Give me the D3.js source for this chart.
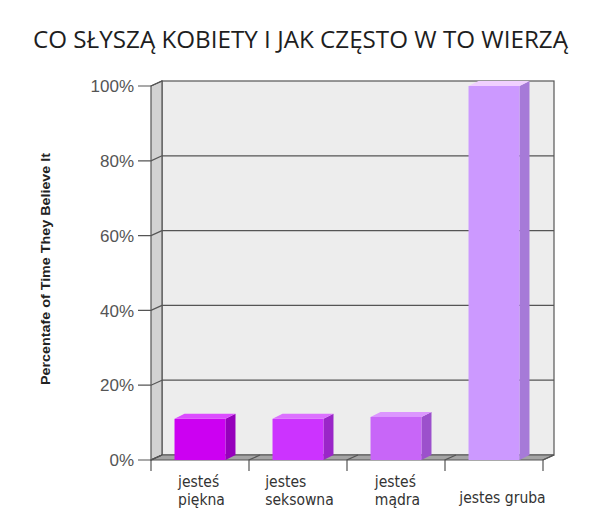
<!DOCTYPE html>
<html>
<head>
<meta charset="utf-8">
<script src="https://cdn.jsdelivr.net/npm/d3@7"></script>
<style>
  html, body { margin: 0; padding: 0; background: #ffffff; }
  svg { display: block; }
</style>
</head>
<body>
<svg id="chart" width="600" height="524"></svg>
<script>
// ---- data ----
const title = "CO SŁYSZĄ KOBIETY I JAK CZĘSTO W TO WIERZĄ";
const yAxisTitle = "Percentafe of Time They Believe It";
const categories = ["jesteś piękna", "jestes seksowna", "jesteś mądra", "jestes gruba"];
const categoryLines = [["jesteś", "piękna"], ["jestes", "seksowna"], ["jesteś", "mądra"], ["jestes gruba"]];
const values = [11, 11, 11.5, 100];
const yTicks = [0, 20, 40, 60, 80, 100];
const yTickLabels = ["0%", "20%", "40%", "60%", "80%", "100%"];

// ---- styles ----
const frontColors = ["#cc00f2", "#cc33ff", "#c866f8", "#cc99ff"];
const sideColors = ["#9600bc", "#9a26c8", "#9c50cc", "#a67ad8"];
const topColors = ["#dc4cff", "#dc70ff", "#dc96ff", "#f0d0ff"];

const svg = d3.select("#chart");
const DX = 11, DY = -5;       // wall depth
const BDX = 10, BDY = -5;     // bar depth

const x = d3.scaleBand().domain(categories).range([151, 543]).paddingInner(0.48).paddingOuter(0.24);
const y = d3.scaleLinear().domain([0, 100]).range([460, 86]);

const axisColor = "#555";
const g = svg.append("g");

// back wall
g.append("rect")
  .attr("x", x.range()[0] + DX).attr("y", y(100) + DY)
  .attr("width", x.range()[1] - x.range()[0]).attr("height", y(0) - y(100))
  .attr("fill", "#ededed").attr("stroke", axisColor).attr("stroke-width", 1.2);

// left wall
g.append("polygon")
  .attr("points", [[x.range()[0], y(100)], [x.range()[0] + DX, y(100) + DY], [x.range()[0] + DX, y(0) + DY], [x.range()[0], y(0)]].map(p => p.join(",")).join(" "))
  .attr("fill", "#d2d2d2").attr("stroke", axisColor).attr("stroke-width", 1.2);

// floor
g.append("polygon")
  .attr("points", [[x.range()[0], y(0)], [x.range()[0] + DX, y(0) + DY], [x.range()[1] + DX, y(0) + DY], [x.range()[1], y(0)]].map(p => p.join(",")).join(" "))
  .attr("fill", "#a4a4a4").attr("stroke", axisColor).attr("stroke-width", 1.2);

// gridlines & y ticks
yTicks.forEach((t, i) => {
  const yy = y(t);
  if (t > 0 && t < 100) {
    g.append("line").attr("x1", x.range()[0] + DX).attr("x2", x.range()[1] + DX)
      .attr("y1", yy + DY).attr("y2", yy + DY).attr("stroke", axisColor).attr("stroke-width", 1.2);
  }
  g.append("polyline")
    .attr("points", `138,${yy} ${x.range()[0]},${yy} ${x.range()[0] + DX},${yy + DY}`)
    .attr("fill", "none").attr("stroke", axisColor).attr("stroke-width", 1.2);
  g.append("text").attr("x", 134).attr("y", yy).attr("dy", "0.36em")
    .attr("text-anchor", "end")
    .attr("font-family", "Liberation Sans, Arial, sans-serif").attr("font-size", 17)
    .attr("fill", "#555").text(yTickLabels[i]);
});

// x ticks at band boundaries
const step = x.step();
const boundaries = d3.range(categories.length + 1).map(i => x.range()[0] + i * step);
boundaries.forEach(bx => {
  g.append("polyline")
    .attr("points", `${bx},471 ${bx},${y(0)} ${bx + DX},${y(0) + DY}`)
    .attr("fill", "none").attr("stroke", axisColor).attr("stroke-width", 1.2);
});

// bars
categories.forEach((c, i) => {
  const x0 = x(c), x1 = x(c) + x.bandwidth();
  const yt = y(values[i]), yb = y(0);
  const bar = g.append("g");
  bar.append("polygon")
    .attr("points", [[x1, yt], [x1 + BDX, yt + BDY], [x1 + BDX, yb + BDY], [x1, yb]].map(p => p.join(",")).join(" "))
    .attr("fill", sideColors[i]);
  bar.append("polygon")
    .attr("points", [[x0, yt], [x0 + BDX, yt + BDY], [x1 + BDX, yt + BDY], [x1, yt]].map(p => p.join(",")).join(" "))
    .attr("fill", topColors[i]);
  bar.append("rect").attr("x", x0).attr("y", yt).attr("width", x.bandwidth()).attr("height", yb - yt)
    .attr("fill", frontColors[i]);
});

// x labels
categories.forEach((c, i) => {
  const lines = categoryLines[i];
  const cx = x(c) + x.bandwidth() / 2 + (lines.length === 1 ? 9 : 2);
  const baseY = lines.length === 1 ? 503 : 487;
  const t = g.append("text")
    .attr("font-family", "DejaVu Sans Condensed, DejaVu Sans, sans-serif").attr("font-size", 15.5)
    .attr("fill", "#333");
  lines.forEach((ln, j) => {
    t.append("tspan").attr("x", 0).attr("y", baseY + j * 18).text(ln);
  });
  const w = t.node().getBBox().width;
  t.attr("transform", `translate(${cx - w / 2},0)`);
});

// y axis title
svg.append("text")
  .attr("transform", "translate(50,269) rotate(-90)")
  .attr("text-anchor", "middle")
  .attr("font-family", "Liberation Sans, Arial, sans-serif").attr("font-weight", "bold")
  .attr("font-size", 12).attr("fill", "#222")
  .attr("textLength", 232).attr("lengthAdjust", "spacingAndGlyphs")
  .text(yAxisTitle);

// title
svg.append("text")
  .attr("x", 300.5).attr("y", 48)
  .attr("text-anchor", "middle")
  .attr("font-family", "Open Sans, DejaVu Sans, sans-serif")
  .attr("font-size", 24).attr("fill", "#1e1e1e")
  .attr("textLength", 535).attr("lengthAdjust", "spacingAndGlyphs")
  .text(title);
</script>
</body>
</html>
